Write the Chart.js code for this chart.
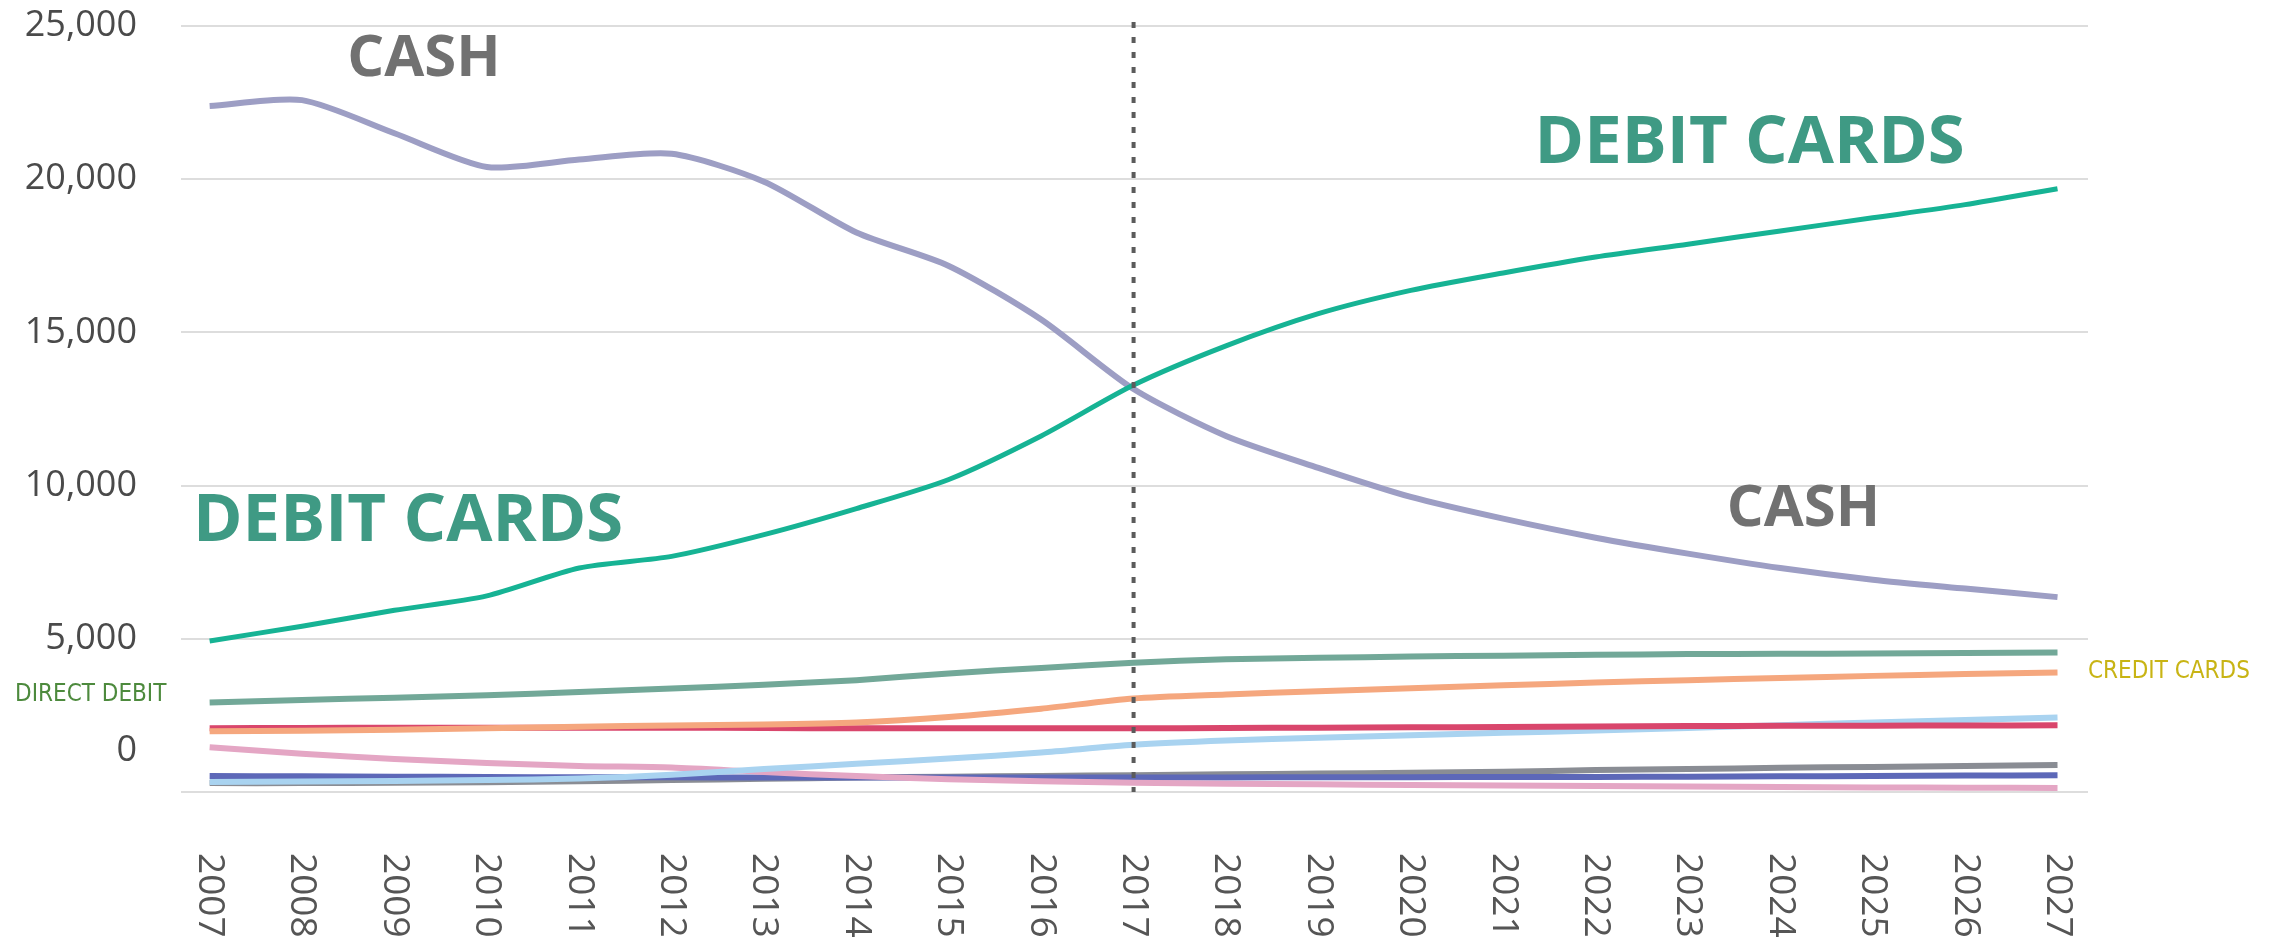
<!DOCTYPE html>
<html>
<head>
<meta charset="utf-8">
<title>Payments by type 2007-2027</title>
<script src="https://cdn.jsdelivr.net/npm/chart.js@4.4.1/dist/chart.umd.min.js"></script>
<style>
  html, body { margin: 0; padding: 0; background: #ffffff; }
  #chartContainer { display: block; }
</style>
</head>
<body>
<canvas id="chartContainer" width="2274" height="951"></canvas>
<script>
// x axis: one point per year
const years = [2007, 2008, 2009, 2010, 2011, 2012, 2013, 2014, 2015, 2016, 2017,
               2018, 2019, 2020, 2021, 2022, 2023, 2024, 2025, 2026, 2027];
const forecastFrom = 2017; // the dotted line

// y axis gridlines
const yTicks = [0, 5000, 10000, 15000, 20000, 25000];
const zeroLabelValue = 1350; // the "0" label sits a bit above the baseline in the original

// series
const cash        = [22390, 22580, 21500, 20400, 20640, 20830, 19920, 18260, 17170, 15420, 13150,
                     11620, 10580, 9630, 8920, 8300, 7780, 7310, 6930, 6640, 6360];
const debitCards  = [4930, 5410, 5930, 6400, 7310, 7690, 8400, 9250, 10200, 11620, 13280,
                     14560, 15610, 16370, 16940, 17460, 17880, 18310, 18740, 19170, 19690];
const directDebit = [2920, 3000, 3080, 3160, 3260, 3380, 3500, 3650, 3870, 4050, 4220,
                     4330, 4380, 4420, 4450, 4480, 4500, 4510, 4520, 4535, 4550];
const creditCards = [1980, 2000, 2030, 2080, 2130, 2170, 2200, 2270, 2450, 2720, 3050,
                     3180, 3290, 3390, 3480, 3570, 3650, 3720, 3790, 3850, 3900];
// the unlabelled small series, named by colour
const redSeries       = [2080, 2090, 2100, 2100, 2100, 2100, 2090, 2080, 2080, 2080, 2080,
                         2090, 2100, 2110, 2120, 2140, 2150, 2160, 2165, 2170, 2175];
const pinkSeries      = [1460, 1250, 1080, 950, 850, 800, 650, 520, 420, 350, 300,
                         270, 250, 230, 210, 195, 180, 165, 150, 140, 130];
const lightBlueSeries = [330, 340, 360, 390, 440, 560, 750, 920, 1090, 1290, 1540,
                         1680, 1770, 1850, 1930, 2010, 2090, 2180, 2270, 2350, 2430];
const darkBlueSeries  = [520, 510, 500, 490, 480, 480, 470, 470, 470, 470, 470,
                         475, 480, 485, 487, 490, 500, 510, 520, 535, 550];
const greySeries      = [290, 290, 300, 320, 350, 390, 430, 470, 500, 520, 550,
                         580, 600, 630, 660, 714, 750, 790, 820, 850, 880];

function points(values) {
    return values.map((v, i) => ({ x: years[i], y: v }));
}

function line(label, values, color, width) {
    return {
        label: label,
        data: points(values),
        borderColor: color,
        backgroundColor: color,
        borderWidth: width || 5,
        pointRadius: 0,
        tension: 0.25,
        fill: false
    };
}

// dotted line, text labels and rotated year labels
const decorations = {
    id: 'decorations',
    afterDatasetsDraw(chart) {
        const { ctx, chartArea, scales } = chart;
        const x = scales.x, y = scales.y;

        ctx.save();
        const px = x.getPixelForValue(forecastFrom);
        ctx.strokeStyle = '#5b5b5b';
        ctx.lineWidth = 4;
        ctx.setLineDash([6, 9]);
        ctx.beginPath();
        ctx.moveTo(px, chartArea.top - 4);
        ctx.lineTo(px, chartArea.bottom);
        ctx.stroke();
        ctx.restore();

        const texts = [
            { text: 'CASH', year: 2008.49, value: 23900, color: '#717171', font: 'bold 58px "Open Sans"' },
            { text: 'CASH', year: 2023.42, value: 9220, color: '#717171', font: 'bold 58px "Open Sans"' },
            { text: 'DEBIT CARDS', year: 2021.34, value: 21160, color: '#3f9a84', font: 'bold 67px "Open Sans"' },
            { text: 'DEBIT CARDS', year: 2006.82, value: 8830, color: '#3f9a84', font: 'bold 67px "Open Sans"' }
        ];
        ctx.save();
        ctx.textAlign = 'left';
        ctx.textBaseline = 'middle';
        texts.forEach(t => {
            ctx.font = t.font;
            ctx.fillStyle = t.color;
            ctx.fillText(t.text, x.getPixelForValue(t.year), y.getPixelForValue(t.value));
        });

        // small labels outside the plot area
        ctx.font = '24px "Liberation Sans Narrow", "DejaVu Sans Condensed", sans-serif';
        ctx.fillStyle = '#4d8a3d';
        ctx.fillText('DIRECT DEBIT', 15, y.getPixelForValue(3170));
        ctx.fillStyle = '#c8b414';
        ctx.fillText('CREDIT CARDS', chartArea.right, y.getPixelForValue(3920));
        ctx.restore();
    },
    afterDraw(chart) {
        const { ctx, chartArea, scales } = chart;
        ctx.save();
        ctx.font = '37px "Open Sans"';
        ctx.fillStyle = '#555555';
        ctx.textAlign = 'left';
        ctx.textBaseline = 'middle';
        years.forEach(yr => {
            ctx.save();
            ctx.translate(scales.x.getPixelForValue(yr), chartArea.bottom + 61);
            ctx.rotate(Math.PI / 2);
            ctx.fillText(String(yr), 0, 0);
            ctx.restore();
        });
        ctx.restore();
    }
};

let chartContainer = document.getElementById('chartContainer');
let chart = new Chart(chartContainer, {
    type: 'line',
    data: {
        datasets: [
            line('Debit cards', debitCards, '#16b394'),
            line('Cash', cash, '#9d9ec4', 6),
            line('Direct debit', directDebit, '#72a898', 6),
            line('Credit cards', creditCards, '#f5a77e', 6),
            line('Red', redSeries, '#d9466c', 6),
            line('Light blue', lightBlueSeries, '#a9d3f0', 6),
            line('Pink', pinkSeries, '#e4a6c4', 6),
            line('Dark blue', darkBlueSeries, '#5d68b8', 6),
            line('Grey', greySeries, '#8a8d94', 6)
        ]
    },
    options: {
        responsive: false,
        devicePixelRatio: 1,
        animation: false,
        layout: { padding: { top: 26, right: 186, bottom: 159, left: 0 } },
        plugins: {
            legend: { display: false },
            tooltip: { enabled: false }
        },
        scales: {
            x: {
                type: 'linear',
                display: false,
                min: 2006.69,
                max: 2027.33
            },
            y: {
                min: 0,
                max: 25000,
                afterBuildTicks: (scale) => {
                    scale.ticks = yTicks.concat([zeroLabelValue])
                        .sort((a, b) => a - b)
                        .map(v => ({ value: v }));
                },
                afterFit: (scale) => {
                    scale.width = 181;
                    // the big tick padding should not push the plot down
                    scale.paddingTop = 0;
                    scale.paddingBottom = 0;
                },
                border: { display: false },
                grid: {
                    drawTicks: false,
                    lineWidth: 2,
                    color: (ctx) => (ctx.tick && ctx.tick.value === zeroLabelValue) ? 'rgba(0,0,0,0)' : '#dddddd'
                },
                ticks: {
                    padding: 44,
                    color: '#4a4a4a',
                    font: { family: '"Open Sans"', size: 36 },
                    callback: (value) => {
                        if (value === 0) return '';
                        if (value === zeroLabelValue) return '0';
                        return value.toLocaleString('en-US');
                    }
                }
            }
        }
    },
    plugins: [decorations]
});
</script>
</body>
</html>
